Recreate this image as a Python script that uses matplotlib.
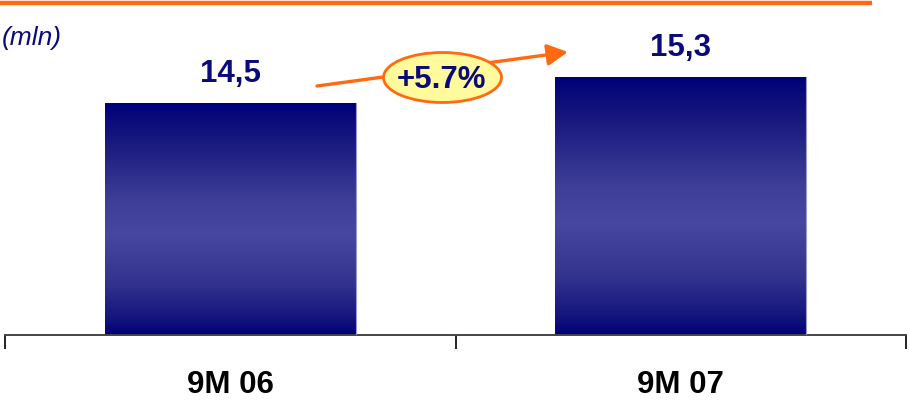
import numpy as np
import matplotlib
matplotlib.use("Agg")
import matplotlib.pyplot as plt
from matplotlib.patches import Ellipse
from matplotlib.colors import LinearSegmentedColormap

# Data
categories = ["9M 06", "9M 07"]
values = [14.5, 15.3]
value_labels = ["14,5", "15,3"]
growth_label = "+5.7%"
unit_label = "(mln)"

NAVY = "#0A0A78"
ORANGE = "#FF6A10"
FONT = ["Liberation Sans", "DejaVu Sans"]

W, H = 909, 401
fig = plt.figure(figsize=(W / 100, H / 100), dpi=100)
fig.patch.set_facecolor("white")

# Axes box: baseline at y=335 px, spans x 5..906 px
ax_left, ax_right = 5 / W, 906 / W
ax_bottom, ax_top = (H - 335) / H, (H - 20) / H
ax = fig.add_axes([ax_left, ax_bottom, ax_right - ax_left, ax_top - ax_bottom])
ax.set_facecolor("none")

ymin, ymax = 7.35, 17.05
ax.set_xlim(-0.5, 1.5)
ax.set_ylim(ymin, ymax)

x = np.arange(len(categories))
bar_w = 0.557

# Vertical gradient: dark navy at the edges, lighter blue in the middle
grad_cmap = LinearSegmentedColormap.from_list(
    "bar_grad",
    [(0.0, "#000078"), (0.18, "#1A1A80"), (0.42, "#3E3E98"),
     (0.57, "#4747A2"), (0.77, "#34348F"), (0.93, "#14147E"), (1.0, "#000078")],
)
grad = np.linspace(0, 1, 256).reshape(-1, 1)

bars = ax.bar(x, values, width=bar_w, bottom=0, color="none",
              edgecolor="none", zorder=2)
for b, v in zip(bars, values):
    x0 = b.get_x()
    x1 = x0 + b.get_width()
    im = ax.imshow(grad, cmap=grad_cmap, aspect="auto",
                   extent=(x0, x1, ymin, v), origin="upper",
                   interpolation="bilinear", zorder=2)
    im.set_clip_path(b)
    # thin light edge on the right side
    ax.plot([x1, x1], [ymin, v], color="#9A9AD0", lw=0.8, zorder=3)

# Value labels above the bars
for xi, v, lab in zip(x, values, value_labels):
    ax.annotate(lab, xy=(xi, v), xytext=(0, 15), textcoords="offset points",
                ha="center", va="baseline", fontsize=22.5, fontweight="bold",
                color=NAVY, family=FONT, zorder=5)

# Baseline axis with category separators
for s in ["top", "right", "left"]:
    ax.spines[s].set_visible(False)
ax.spines["bottom"].set_color("#444444")
ax.spines["bottom"].set_linewidth(1.4)
ax.set_yticks([])
ax.set_xticks(x)
ax.set_xticklabels(categories, fontsize=22.5, fontweight="bold", family=FONT,
                   color="black")
ax.tick_params(axis="x", which="major", length=0, pad=25)
ax.set_xticks([-0.5, 0.5, 1.5], minor=True)
ax.tick_params(axis="x", which="minor", length=10, width=1.4,
               color="#222222", direction="out")
ax.set_xlim(-0.5, 1.5)

# Orange rule at the top
fig.add_artist(plt.Line2D([0, 872 / W], [1 - 3 / H, 1 - 3 / H],
                          color=ORANGE, lw=3.2, solid_capstyle="butt"))

# Unit label
fig.text(2 / W, 1 - 38 / H, unit_label, fontsize=19, style="italic",
         color=NAVY, family=FONT, ha="left", va="center")

# Growth arrow with highlighted percentage
ax_overlay = fig.add_axes([0, 0, 1, 1], facecolor="none")
ax_overlay.set_xlim(0, W)
ax_overlay.set_ylim(H, 0)
ax_overlay.axis("off")
ax_overlay.annotate("", xy=(568, 52), xytext=(317, 86),
                    arrowprops=dict(arrowstyle="-|>,head_length=1.25,head_width=0.65",
                                    color=ORANGE, lw=2.4, shrinkA=0, shrinkB=0))
ax_overlay.add_patch(Ellipse((442.5, 77.5), 118, 50, facecolor="#FFFA9C",
                             edgecolor=ORANGE, lw=2.0, zorder=4))
ax_overlay.text(442, 80, growth_label, fontsize=22.5, fontweight="bold",
                color=NAVY, family=FONT, ha="center", va="center", zorder=5)

fig.savefig("out.png", dpi=100)
